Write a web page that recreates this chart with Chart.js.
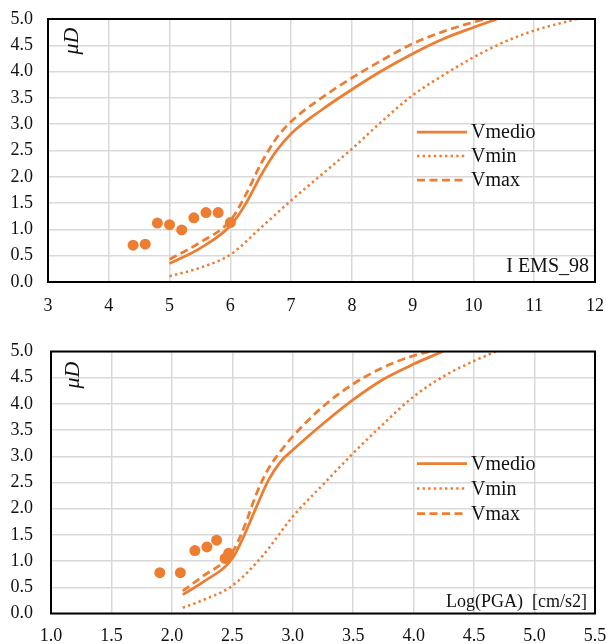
<!DOCTYPE html>
<html>
<head>
<meta charset="utf-8">
<script src="https://cdn.jsdelivr.net/npm/chart.js@4.4.1/dist/chart.umd.min.js"></script>
<style>
  html, body { margin: 0; padding: 0; background: #fff; }
  #wrap { position: relative; width: 606px; height: 644px; }
  .panel { position: absolute; left: 0; width: 606px; height: 322px; }
</style>
</head>
<body>
<div id="wrap">
  <div class="panel" style="top:0"><canvas id="chartI" width="606" height="322"></canvas></div>
  <div class="panel" style="top:322px"><canvas id="chartP" width="606" height="322"></canvas></div>
</div>
<script>
// ---- Ductility demand vs. macroseismic intensity (I EMS-98) ----
const intensityTicks = [3, 4, 5, 6, 7, 8, 9, 10, 11, 12];
const muTicks = [0, 0.5, 1, 1.5, 2, 2.5, 3, 3.5, 4, 4.5, 5];

const obsI   = [4.4, 4.6, 4.8, 5.0, 5.2, 5.4, 5.6, 5.8, 6.0];
const obsIMu = [0.70, 0.72, 1.12, 1.09, 0.99, 1.22, 1.32, 1.32, 1.13];

const medioI    = [5, 5.5, 6, 6.25, 6.5, 6.75, 7, 7.5, 8, 8.5, 9, 9.5, 10, 10.39];
const medioIMu  = [0.35, 0.64, 1.07, 1.48, 2.02, 2.48, 2.82, 3.27, 3.66, 4.02, 4.34, 4.62, 4.84, 5.0];
const minI      = [5, 5.5, 6, 6.5, 7, 7.5, 8, 8.5, 9, 9.5, 10, 10.5, 11, 11.7];
const minIMu    = [0.11, 0.27, 0.52, 1.03, 1.55, 2.04, 2.53, 3.06, 3.55, 3.93, 4.27, 4.56, 4.78, 5.0];
const maxI      = [5, 5.5, 6, 6.25, 6.5, 6.75, 7, 7.5, 8, 8.5, 9, 9.5, 10, 10.2];
const maxIMu    = [0.43, 0.75, 1.17, 1.65, 2.24, 2.72, 3.05, 3.5, 3.88, 4.22, 4.53, 4.76, 4.94, 5.0];

// ---- Ductility demand vs. Log(PGA) ----
const pgaTicks = [1.0, 1.5, 2.0, 2.5, 3.0, 3.5, 4.0, 4.5, 5.0, 5.5];

const obsP   = [1.90, 2.07, 2.19, 2.29, 2.37, 2.44, 2.47];
const obsPMu = [0.78, 0.78, 1.20, 1.27, 1.40, 1.05, 1.15];

const medioP    = [2.09, 2.25, 2.5, 2.6, 2.7, 2.8, 2.9, 3.0, 3.25, 3.5, 3.75, 4.0, 4.24];
const medioPMu  = [0.36, 0.59, 1.05, 1.50, 2.04, 2.55, 2.90, 3.12, 3.62, 4.08, 4.47, 4.76, 5.0];
const minP      = [2.09, 2.25, 2.5, 2.75, 3.0, 3.25, 3.5, 3.75, 4.0, 4.25, 4.5, 4.68];
const minPMu    = [0.11, 0.25, 0.53, 1.10, 1.85, 2.46, 3.06, 3.62, 4.14, 4.53, 4.82, 5.0];
const maxP      = [2.09, 2.25, 2.5, 2.6, 2.7, 2.8, 2.9, 3.0, 3.25, 3.5, 3.75, 4.0, 4.13];
const maxPMu    = [0.43, 0.70, 1.17, 1.66, 2.29, 2.77, 3.10, 3.38, 3.95, 4.38, 4.70, 4.92, 5.0];

const ORANGE = '#ED7D31';
const SERIF = '"Liberation Serif", "Times New Roman", serif';
const TEXT = '#111';

const pts = (xs, ys) => xs.map((x, i) => ({ x: x, y: ys[i] }));

function curve(label, xs, ys, dash, width) {
  return {
    label: label,
    data: pts(xs, ys),
    showLine: true,
    pointRadius: 0,
    pointHoverRadius: 0,
    borderColor: ORANGE,
    backgroundColor: ORANGE,
    borderWidth: width,
    borderDash: dash,
    borderCapStyle: 'butt',
    cubicInterpolationMode: 'monotone'
  };
}

// frame, axis symbol, in-plot legend and corner note
const panelDecor = {
  id: 'panelDecor',
  afterDraw(chart, args, o) {
    const { ctx, chartArea: a } = chart;
    ctx.save();
    ctx.strokeStyle = '#000';
    ctx.lineWidth = 2;
    ctx.setLineDash([]);
    ctx.strokeRect(a.left, a.top, a.right - a.left, a.bottom - a.top);

    // rotated symbol of the ductility demand
    ctx.save();
    ctx.translate(a.left + o.symX, a.top + o.symY);
    ctx.rotate(-Math.PI / 2);
    ctx.font = 'italic 22px ' + SERIF;
    ctx.fillStyle = TEXT;
    ctx.textAlign = 'center';
    ctx.textBaseline = 'middle';
    ctx.fillText('\u03BCD', 0, 0);
    ctx.restore();

    // legend of the three curves
    let row = 0;
    chart.data.datasets.forEach((ds) => {
      if (!ds.showLine) return;
      const y = a.top + o.legTop + row * o.legStep;
      const x0 = a.right - o.legRight;
      ctx.beginPath();
      ctx.strokeStyle = ds.borderColor;
      ctx.lineWidth = ds.borderWidth;
      ctx.setLineDash(ds.borderDash || []);
      ctx.lineCap = 'butt';
      ctx.moveTo(x0, y);
      ctx.lineTo(x0 + 50, y);
      ctx.stroke();
      ctx.setLineDash([]);
      ctx.font = '20px ' + SERIF;
      ctx.fillStyle = TEXT;
      ctx.textAlign = 'left';
      ctx.textBaseline = 'middle';
      ctx.fillText(ds.label, x0 + 54, y + 1);
      row++;
    });

    // corner note
    ctx.font = o.noteFont;
    ctx.fillStyle = TEXT;
    ctx.textAlign = 'right';
    ctx.textBaseline = 'middle';
    ctx.fillText(o.note, a.right - o.noteDx, a.bottom - o.noteDy);
    ctx.restore();
  }
};

function buildChart(id, opts) {
  const fmtX = opts.xDecimals ? (v) => Number(v).toFixed(1) : (v) => String(v);
  return new Chart(document.getElementById(id), {
    type: 'scatter',
    data: {
      datasets: [
        {
          label: 'obs',
          data: pts(opts.obsX, opts.obsY),
          showLine: false,
          pointRadius: 5.5,
          pointHoverRadius: 5.5,
          pointBorderWidth: 0,
          backgroundColor: ORANGE,
          borderColor: ORANGE
        },
        curve('Vmedio', opts.medX, opts.medY, [], 2.75),
        curve('Vmin', opts.minX, opts.minY, [2.4, 3.2], 2.5),
        curve('Vmax', opts.maxX, opts.maxY, [8, 4.5], 2.75)
      ]
    },
    options: {
      responsive: false,
      animation: false,
      events: [],
      layout: { padding: { top: opts.padTop, right: 11, left: 0, bottom: 0 } },
      scales: {
        x: {
          type: 'linear',
          min: opts.xTicks[0],
          max: opts.xTicks[opts.xTicks.length - 1],
          afterBuildTicks: (s) => { s.ticks = opts.xTicks.map((v) => ({ value: v })); },
          afterFit: (s) => {
            s.height = opts.xAxisH;
            s.paddingLeft = 0;
            s.paddingRight = 0;
          },
          ticks: {
            callback: fmtX,
            font: { family: SERIF, size: 18 },
            color: TEXT,
            padding: opts.xPad,
            maxRotation: 0,
            autoSkip: false
          },
          grid: { color: '#d9d9d9', lineWidth: 1.5, drawTicks: false },
          border: { display: false }
        },
        y: {
          type: 'linear',
          min: 0,
          max: 5,
          afterBuildTicks: (s) => { s.ticks = muTicks.map((v) => ({ value: v })); },
          afterFit: (s) => {
            s.width = opts.yAxisW;
            s.paddingTop = 0;
            s.paddingBottom = 0;
          },
          ticks: {
            callback: (v) => Number(v).toFixed(1),
            font: { family: SERIF, size: 18 },
            color: TEXT,
            padding: opts.yPad,
            autoSkip: false
          },
          grid: { color: '#d9d9d9', lineWidth: 1.5, drawTicks: false },
          border: { display: false }
        }
      },
      plugins: {
        legend: { display: false },
        tooltip: { enabled: false },
        panelDecor: opts.decor
      }
    },
    plugins: [panelDecor]
  });
}

buildChart('chartI', {
  xTicks: intensityTicks, xDecimals: false,
  obsX: obsI, obsY: obsIMu,
  medX: medioI, medY: medioIMu,
  minX: minI, minY: minIMu,
  maxX: maxI, maxY: maxIMu,
  padTop: 19, xAxisH: 40, yAxisW: 48, xPad: 13, yPad: 15,
  decor: {
    symX: 24.5, symY: 22,
    legTop: 113, legStep: 24, legRight: 178,
    note: 'I EMS_98', noteFont: '20px ' + SERIF, noteDx: 6, noteDy: 15
  }
});

buildChart('chartP', {
  xTicks: pgaTicks, xDecimals: true,
  obsX: obsP, obsY: obsPMu,
  medX: medioP, medY: medioPMu,
  minX: minP, minY: minPMu,
  maxX: maxP, maxY: maxPMu,
  padTop: 29.5, xAxisH: 30.5, yAxisW: 51, xPad: 12, yPad: 18,
  decor: {
    symX: 22, symY: 23.5,
    legTop: 112, legStep: 25, legRight: 178,
    note: 'Log(PGA)  [cm/s2]', noteFont: '18px ' + SERIF, noteDx: 8, noteDy: 11
  }
});
</script>
</body>
</html>
